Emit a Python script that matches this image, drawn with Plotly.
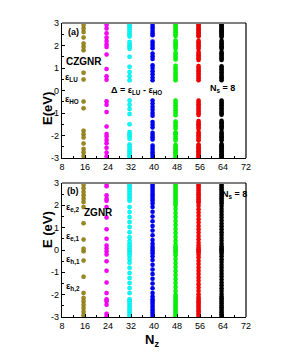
import plotly.graph_objects as go

# Column positions (N_z) and colours
nz_cols = [15.5, 23.5, 31.5, 39.5, 47.5, 55.5, 63.5]
colors = ["#9a8a1e", "#ff00ff", "#00ffff", "#0000ff", "#00ff00", "#ff0000", "#000000"]

# Panel (a): CZGNR, positive levels (spectrum is symmetric about E = 0)
cz_olive = [0.49, 0.79, 1.79, 1.94, 2.09, 2.36, 2.6, 2.75, 2.91]
cz_magenta = [0.48, 0.63, 0.96, 1.6, 1.93, 2.05, 2.2, 2.35, 2.55, 2.76, 2.92]
cz_cyan = [0.45, 0.63, 0.82, 1.05, 1.5, 1.85, 1.95, 2.05, 2.15, 2.4, 2.5, 2.6, 2.7, 2.8, 2.9, 2.98]
cz_blue = [0.45, 0.58, 0.72, 0.86, 1.0, 1.12, 1.4, 1.52, 1.64, 1.88, 1.98, 2.08, 2.18,
           2.45, 2.55, 2.65, 2.75, 2.85, 2.95]
cz_green = [0.45, 0.55, 0.66, 0.77, 0.88, 0.99, 1.1, 1.38, 1.48, 1.58, 1.68, 1.86, 1.95,
            2.04, 2.13, 2.22, 2.42, 2.5, 2.58, 2.66, 2.74, 2.82, 2.9, 2.98]
cz_red = [0.45, 0.53, 0.61, 0.69, 0.77, 0.85, 0.93, 1.01, 1.09, 1.36, 1.43, 1.5, 1.57, 1.64,
          1.71, 1.86, 1.93, 2.0, 2.07, 2.14, 2.21, 2.4, 2.46, 2.52, 2.58, 2.64, 2.7, 2.76,
          2.82, 2.88, 2.94, 3.0]
cz_black = [0.45, 0.52, 0.59, 0.66, 0.73, 0.8, 0.87, 0.94, 1.01, 1.08, 1.35, 1.41, 1.47,
            1.53, 1.59, 1.65, 1.71, 1.85, 1.91, 1.97, 2.03, 2.09, 2.15, 2.21, 2.38, 2.43,
            2.48, 2.53, 2.58, 2.63, 2.68, 2.73, 2.78, 2.83, 2.88, 2.93, 2.98]
cz_levels = [cz_olive, cz_magenta, cz_cyan, cz_blue, cz_green, cz_red, cz_black]

# Panel (b): ZGNR, positive levels
z_olive = [0.06, 0.47, 1.2, 1.93, 2.15, 2.3, 2.45, 2.6, 2.76, 2.92]
z_magenta = [0.07, 0.2, 0.5, 0.93, 1.45, 1.93, 2.2, 2.3, 2.45, 2.85, 2.97]
z_cyan = [0.04, 0.14, 0.26, 0.4, 0.57, 0.8, 1.03, 1.25, 1.48, 1.7, 1.93, 2.2, 2.3, 2.4,
          2.5, 2.6, 2.7, 2.8, 2.9, 2.98]
z_blue = [0.05, 0.15, 0.28, 0.45, 0.66, 0.87, 1.08, 1.29, 1.5, 1.71, 1.92, 2.08, 2.2, 2.3,
          2.4, 2.5, 2.6, 2.7, 2.8, 2.9, 3.0]
z_green = [0.04, 0.12, 0.24, 0.4, 0.58, 0.76, 0.94, 1.12, 1.3, 1.48, 1.66, 1.84, 2.0, 2.1,
           2.19, 2.28, 2.37, 2.46, 2.55, 2.64, 2.73, 2.82, 2.91, 3.0]
z_red = [0.03, 0.1, 0.2, 0.33, 0.48, 0.63, 0.78, 0.93, 1.08, 1.23, 1.38, 1.53, 1.68, 1.83,
         1.98, 2.1, 2.18, 2.26, 2.34, 2.42, 2.5, 2.58, 2.66, 2.74, 2.82, 2.9, 2.98]
z_black = [0.03, 0.09, 0.17, 0.28, 0.41, 0.54, 0.67, 0.8, 0.93, 1.06, 1.19, 1.32, 1.45,
           1.58, 1.71, 1.84, 1.97, 2.08, 2.16, 2.24, 2.32, 2.4, 2.48, 2.56, 2.64, 2.72,
           2.8, 2.88, 2.96]
z_levels = [z_olive, z_magenta, z_cyan, z_blue, z_green, z_red, z_black]

x_ticks = [8, 16, 24, 32, 40, 48, 56, 64, 72]
y_ticks = [-3, -2, -1, 0, 1, 2, 3]

FONT = "Liberation Sans"
W, H = 295, 355
fig = go.Figure()

def add_panel(levels, xa, ya):
    for nz, col, lev in zip(nz_cols, colors, levels):
        ys = [-v for v in lev] + lev
        fig.add_trace(go.Scatter(
            x=[nz] * len(ys), y=ys, mode="markers", xaxis=xa, yaxis=ya,
            marker=dict(size=4.5, color=col, symbol="circle",
                        line=dict(width=0.3, color="rgba(0,0,0,0.3)")),
            showlegend=False, hoverinfo="skip", cliponaxis=True))

add_panel(cz_levels, "x", "y")
add_panel(z_levels, "x2", "y2")

xd = [62 / W, 246 / W]
ya_dom = [(H - 158) / H, (H - 23) / H]
yb_dom = [(H - 317) / H, (H - 183) / H]

axfont = dict(family=FONT, size=9, color="black")
common_x = dict(range=[8, 72], tickvals=x_ticks, ticktext=[str(v) for v in x_ticks],
                showgrid=False, zeroline=False, showline=True, linecolor="black",
                linewidth=1.2, ticks="inside", ticklen=3, tickcolor="black",
                tickfont=axfont, domain=xd, automargin=False,
                minor=dict(tickvals=[12, 20, 28, 36, 44, 52, 60, 68], ticks="inside",
                           ticklen=2, tickcolor="black"))
common_y = dict(range=[-3, 3], tickvals=y_ticks, ticktext=[str(v) for v in y_ticks],
                showgrid=False, zeroline=False, showline=True, linecolor="black",
                linewidth=1.2, ticks="inside", ticklen=3, tickcolor="black",
                tickfont=axfont, automargin=False,
                minor=dict(tickvals=[-2.5, -1.5, -0.5, 0.5, 1.5, 2.5], ticks="inside",
                           ticklen=2, tickcolor="black"))

fig.update_layout(
    width=W, height=H, autosize=False,
    margin=dict(l=0, r=0, t=0, b=0),
    paper_bgcolor="white", plot_bgcolor="white",
    font=dict(family=FONT, color="black"),
    xaxis=dict(common_x, anchor="y"),
    yaxis=dict(common_y, domain=ya_dom, anchor="x"),
    xaxis2=dict(common_x, anchor="y2"),
    yaxis2=dict(common_y, domain=yb_dom, anchor="x2"),
)

# frame: gray top line, black right line
for dom in (ya_dom, yb_dom):
    fig.add_shape(type="line", xref="paper", yref="paper", x0=xd[0], x1=xd[1],
                  y0=dom[1], y1=dom[1], line=dict(color="#808080", width=2))
    fig.add_shape(type="line", xref="paper", yref="paper", x0=xd[1], x1=xd[1],
                  y0=dom[0], y1=dom[1], line=dict(color="black", width=1.2))

def ann(text, x, y, xr, yr, size=9, xanchor="center"):
    fig.add_annotation(text=text, x=x, y=y, xref=xr, yref=yr, showarrow=False,
                       font=dict(family=FONT, size=size, color="black"),
                       xanchor=xanchor, yanchor="middle")

B = lambda s: "<b>" + s + "</b>"
# panel (a)
ann(B("(a)"), 11.9, 2.6, "x", "y")
ann(B("CZGNR"), 15.6, 1.27, "x", "y", size=10)
ann(B("ε<sub>LU</sub>"), 11.3, 0.6, "x", "y")
ann(B("ε<sub>HO</sub>"), 11.6, -0.4, "x", "y")
ann(B("Δ = ε<sub>LU</sub> - ε<sub>HO</sub>"), 33.8, 0.0, "x", "y")
ann(B("N<sub>s</sub> = 8"), 63.7, 0.1, "x", "y")
# panel (b)
ann(B("(b)"), 11.7, 2.64, "x2", "y2")
ann(B("ε<sub>e,2</sub>"), 11.7, 1.88, "x2", "y2")
ann(B("ZGNR"), 20.7, 1.66, "x2", "y2", size=10)
ann(B("ε<sub>e,1</sub>"), 11.7, 0.58, "x2", "y2")
ann(B("ε<sub>h,1</sub>"), 11.7, -0.45, "x2", "y2")
ann(B("ε<sub>h,2</sub>"), 11.7, -1.66, "x2", "y2")
ann(B("N<sub>s</sub> = 8"), 68.0, 2.5, "x2", "y2")

# axis titles
fig.add_annotation(text=B("E(eV)"), x=38 / W, y=(H - 90) / H, xref="paper", yref="paper",
                   showarrow=False, textangle=-90,
                   font=dict(family=FONT, size=13, color="black"))
fig.add_annotation(text=B("E (eV)"), x=38 / W, y=(H - 250) / H, xref="paper", yref="paper",
                   showarrow=False, textangle=-90,
                   font=dict(family=FONT, size=13, color="black"))
fig.add_annotation(text=B("N<sub>z</sub>"), x=152 / W, y=(H - 340) / H, xref="paper",
                   yref="paper", showarrow=False, yanchor="middle",
                   font=dict(family=FONT, size=13, color="black"))

fig.write_html("out.html", config={"displayModeBar": False},
               post_script="document.body.style.margin='0';document.body.style.overflow='hidden';")
